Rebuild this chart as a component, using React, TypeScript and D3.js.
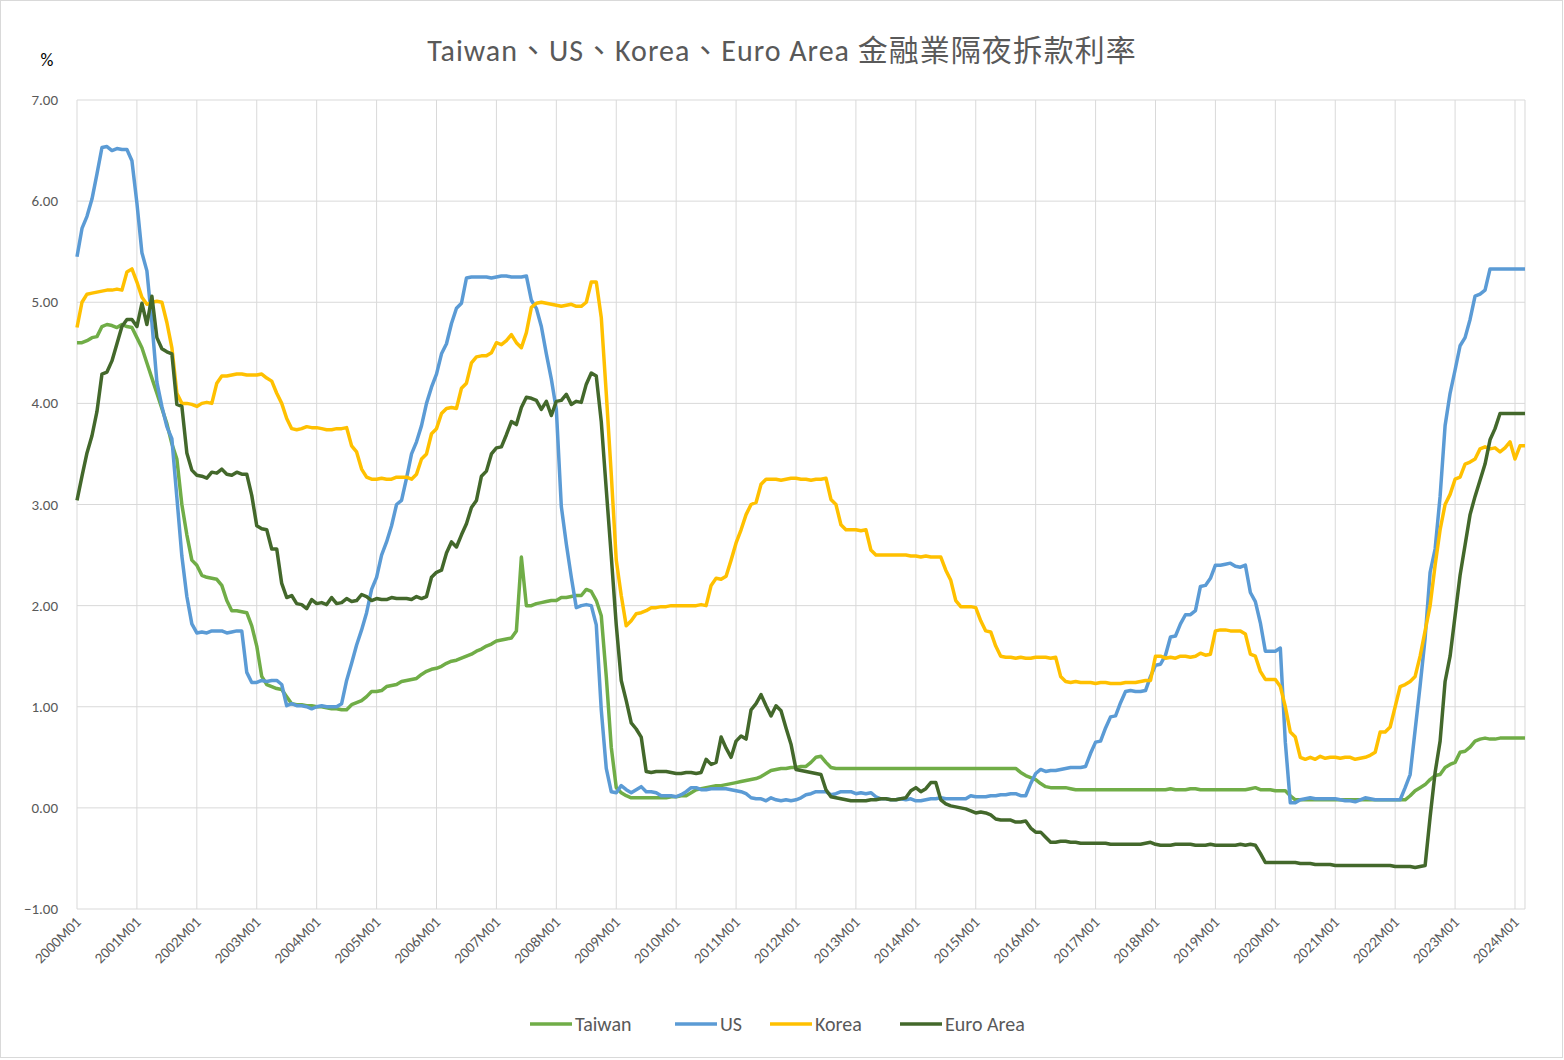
import { useEffect, useRef } from "react";
import * as d3 from "d3";

// monthly values 2000M01 .. 2024M03
const TAIWAN = [
  4.60,4.60,4.62,4.65,4.66,4.76,4.78,4.77,4.75,4.78,4.76,4.75,
  4.65,4.55,4.40,4.25,4.10,3.95,3.80,3.60,3.45,3.00,2.70,2.45,
  2.40,2.30,2.28,2.27,2.26,2.20,2.05,1.95,1.95,1.94,1.93,1.80,
  1.60,1.30,1.22,1.20,1.18,1.17,1.10,1.03,1.02,1.02,1.01,1.01,
  1.00,1.00,0.99,0.98,0.98,0.97,0.97,1.02,1.04,1.06,1.10,1.15,
  1.15,1.16,1.20,1.21,1.22,1.25,1.26,1.27,1.28,1.32,1.35,1.37,
  1.38,1.40,1.43,1.45,1.46,1.48,1.50,1.52,1.55,1.57,1.60,1.62,
  1.65,1.66,1.67,1.68,1.75,2.48,2.00,2.00,2.02,2.03,2.04,2.05,
  2.05,2.08,2.08,2.09,2.10,2.10,2.16,2.14,2.05,1.90,1.30,0.60,
  0.20,0.15,0.12,0.10,0.10,0.10,0.10,0.10,0.10,0.10,0.10,0.11,
  0.11,0.12,0.12,0.15,0.18,0.19,0.20,0.21,0.22,0.22,0.23,0.24,
  0.25,0.26,0.27,0.28,0.29,0.31,0.34,0.37,0.38,0.39,0.39,0.40,
  0.40,0.41,0.41,0.45,0.50,0.51,0.45,0.40,0.39,0.39,0.39,0.39,
  0.39,0.39,0.39,0.39,0.39,0.39,0.39,0.39,0.39,0.39,0.39,0.39,
  0.39,0.39,0.39,0.39,0.39,0.39,0.39,0.39,0.39,0.39,0.39,0.39,
  0.39,0.39,0.39,0.39,0.39,0.39,0.39,0.39,0.39,0.35,0.32,0.30,
  0.28,0.24,0.21,0.20,0.20,0.20,0.20,0.19,0.18,0.18,0.18,0.18,
  0.18,0.18,0.18,0.18,0.18,0.18,0.18,0.18,0.18,0.18,0.18,0.18,
  0.18,0.18,0.18,0.19,0.18,0.18,0.18,0.19,0.19,0.18,0.18,0.18,
  0.18,0.18,0.18,0.18,0.18,0.18,0.18,0.19,0.20,0.18,0.18,0.18,
  0.17,0.17,0.17,0.12,0.08,0.08,0.08,0.08,0.08,0.08,0.08,0.08,
  0.08,0.08,0.08,0.08,0.08,0.08,0.08,0.08,0.08,0.08,0.08,0.08,
  0.08,0.08,0.08,0.12,0.17,0.20,0.23,0.28,0.32,0.33,0.40,0.43,
  0.45,0.55,0.56,0.60,0.66,0.68,0.69,0.68,0.68,0.69,0.69,0.69,
  0.69,0.69,0.69,
];
const US = [
  5.45,5.73,5.85,6.02,6.27,6.53,6.54,6.50,6.52,6.51,6.51,6.40,
  5.98,5.49,5.31,4.80,4.21,3.97,3.77,3.65,3.07,2.49,2.09,1.82,
  1.73,1.74,1.73,1.75,1.75,1.75,1.73,1.74,1.75,1.75,1.34,1.24,
  1.24,1.26,1.25,1.26,1.26,1.22,1.01,1.03,1.01,1.01,1.00,0.98,
  1.00,1.01,1.00,1.00,1.00,1.03,1.26,1.43,1.61,1.76,1.93,2.16,
  2.28,2.50,2.63,2.79,3.00,3.04,3.26,3.50,3.62,3.78,4.00,4.16,
  4.29,4.49,4.59,4.79,4.94,4.99,5.24,5.25,5.25,5.25,5.25,5.24,
  5.25,5.26,5.26,5.25,5.25,5.25,5.26,5.02,4.94,4.76,4.49,4.24,
  3.94,2.98,2.61,2.28,1.98,2.00,2.01,2.00,1.81,0.97,0.39,0.16,
  0.15,0.22,0.18,0.15,0.18,0.21,0.16,0.16,0.15,0.12,0.12,0.12,
  0.11,0.13,0.16,0.20,0.20,0.18,0.18,0.19,0.19,0.19,0.19,0.18,
  0.17,0.16,0.14,0.10,0.09,0.09,0.07,0.10,0.08,0.07,0.08,0.07,
  0.08,0.10,0.13,0.14,0.16,0.16,0.16,0.13,0.14,0.16,0.16,0.16,
  0.14,0.15,0.14,0.15,0.11,0.09,0.09,0.08,0.08,0.09,0.08,0.09,
  0.07,0.07,0.08,0.09,0.09,0.10,0.09,0.09,0.09,0.09,0.09,0.12,
  0.11,0.11,0.11,0.12,0.12,0.13,0.13,0.14,0.14,0.12,0.12,0.24,
  0.34,0.38,0.36,0.37,0.37,0.38,0.39,0.40,0.40,0.40,0.41,0.54,
  0.65,0.66,0.79,0.90,0.91,1.04,1.15,1.16,1.15,1.15,1.16,1.30,
  1.41,1.42,1.51,1.69,1.70,1.82,1.91,1.91,1.95,2.19,2.20,2.27,
  2.40,2.40,2.41,2.42,2.39,2.38,2.40,2.13,2.04,1.83,1.55,1.55,
  1.55,1.58,0.65,0.05,0.05,0.08,0.09,0.10,0.09,0.09,0.09,0.09,
  0.09,0.08,0.07,0.07,0.06,0.08,0.10,0.09,0.08,0.08,0.08,0.08,
  0.08,0.08,0.20,0.33,0.77,1.21,1.68,2.33,2.56,3.08,3.78,4.10,
  4.33,4.57,4.65,4.83,5.06,5.08,5.12,5.33,5.33,5.33,5.33,5.33,
  5.33,5.33,5.33,
];
const KOREA = [
  4.75,5.00,5.08,5.09,5.10,5.11,5.12,5.12,5.13,5.12,5.30,5.33,
  5.20,5.05,4.98,5.00,5.01,5.00,4.80,4.55,4.10,4.00,4.00,3.99,
  3.97,4.00,4.01,4.00,4.20,4.27,4.27,4.28,4.29,4.29,4.28,4.28,
  4.28,4.29,4.25,4.22,4.10,4.00,3.85,3.75,3.74,3.75,3.77,3.76,
  3.76,3.75,3.74,3.74,3.75,3.75,3.76,3.58,3.52,3.35,3.27,3.25,
  3.25,3.26,3.25,3.25,3.27,3.27,3.27,3.25,3.30,3.45,3.50,3.70,
  3.75,3.90,3.95,3.96,3.95,4.15,4.20,4.40,4.46,4.47,4.47,4.50,
  4.60,4.58,4.62,4.68,4.60,4.55,4.70,4.95,4.99,5.00,4.99,4.98,
  4.97,4.96,4.97,4.98,4.96,4.96,5.00,5.20,5.20,4.85,4.10,3.30,
  2.45,2.10,1.80,1.85,1.92,1.93,1.95,1.98,1.98,1.99,1.99,2.00,
  2.00,2.00,2.00,2.00,2.00,2.01,2.00,2.20,2.27,2.26,2.29,2.45,
  2.62,2.75,2.90,3.00,3.02,3.20,3.25,3.25,3.25,3.24,3.25,3.26,
  3.26,3.25,3.25,3.24,3.25,3.25,3.26,3.05,3.00,2.80,2.75,2.75,
  2.75,2.74,2.75,2.55,2.50,2.50,2.50,2.50,2.50,2.50,2.50,2.49,
  2.49,2.48,2.49,2.48,2.48,2.48,2.35,2.25,2.05,1.99,1.99,1.99,
  1.98,1.85,1.75,1.74,1.60,1.50,1.49,1.49,1.48,1.49,1.48,1.48,
  1.49,1.49,1.49,1.48,1.49,1.30,1.25,1.24,1.25,1.24,1.24,1.24,
  1.23,1.24,1.24,1.23,1.23,1.23,1.24,1.24,1.24,1.25,1.26,1.26,
  1.50,1.50,1.48,1.49,1.48,1.50,1.50,1.49,1.50,1.53,1.51,1.52,
  1.75,1.76,1.76,1.75,1.75,1.75,1.72,1.52,1.50,1.35,1.27,1.27,
  1.27,1.20,1.00,0.75,0.70,0.50,0.48,0.50,0.48,0.51,0.49,0.50,
  0.50,0.49,0.50,0.50,0.48,0.49,0.50,0.52,0.55,0.75,0.75,0.80,
  1.00,1.20,1.22,1.25,1.30,1.50,1.75,2.00,2.40,2.75,3.00,3.10,
  3.25,3.27,3.40,3.42,3.45,3.55,3.57,3.55,3.56,3.52,3.56,3.62,
  3.45,3.58,3.58,
];
const EURO = [
  3.04,3.28,3.51,3.68,3.92,4.29,4.31,4.42,4.59,4.76,4.83,4.83,
  4.76,4.99,4.78,5.06,4.65,4.54,4.51,4.49,3.99,3.97,3.51,3.34,
  3.29,3.28,3.26,3.32,3.31,3.35,3.30,3.29,3.32,3.30,3.30,3.09,
  2.79,2.76,2.75,2.56,2.56,2.22,2.08,2.10,2.02,2.01,1.97,2.06,
  2.02,2.03,2.01,2.08,2.02,2.03,2.07,2.04,2.05,2.11,2.09,2.05,
  2.07,2.06,2.06,2.08,2.07,2.07,2.07,2.06,2.09,2.07,2.09,2.28,
  2.33,2.35,2.52,2.63,2.58,2.70,2.81,2.97,3.04,3.28,3.33,3.50,
  3.56,3.57,3.69,3.82,3.79,3.96,4.06,4.05,4.03,3.94,4.02,3.88,
  4.02,4.03,4.09,3.99,4.02,4.01,4.19,4.30,4.27,3.82,3.15,2.49,
  1.81,1.26,1.06,0.84,0.78,0.70,0.36,0.35,0.36,0.36,0.36,0.35,
  0.34,0.34,0.35,0.35,0.34,0.35,0.48,0.43,0.45,0.70,0.59,0.50,
  0.66,0.71,0.68,0.97,1.03,1.12,1.01,0.91,1.01,0.96,0.79,0.63,
  0.38,0.37,0.36,0.35,0.34,0.33,0.18,0.11,0.10,0.09,0.08,0.07,
  0.07,0.07,0.07,0.08,0.08,0.09,0.09,0.08,0.08,0.09,0.10,0.17,
  0.20,0.16,0.19,0.25,0.25,0.08,0.04,0.02,0.01,0.00,-0.01,-0.03,
  -0.05,-0.04,-0.05,-0.07,-0.11,-0.12,-0.12,-0.12,-0.14,-0.14,-0.13,-0.20,
  -0.24,-0.24,-0.29,-0.34,-0.34,-0.33,-0.33,-0.34,-0.34,-0.35,-0.35,-0.35,
  -0.35,-0.35,-0.35,-0.36,-0.36,-0.36,-0.36,-0.36,-0.36,-0.36,-0.35,-0.34,
  -0.36,-0.37,-0.37,-0.37,-0.36,-0.36,-0.36,-0.36,-0.37,-0.37,-0.37,-0.36,
  -0.37,-0.37,-0.37,-0.37,-0.37,-0.36,-0.37,-0.36,-0.37,-0.45,-0.54,-0.54,
  -0.54,-0.54,-0.54,-0.54,-0.54,-0.55,-0.55,-0.55,-0.56,-0.56,-0.56,-0.56,
  -0.57,-0.57,-0.57,-0.57,-0.57,-0.57,-0.57,-0.57,-0.57,-0.57,-0.57,-0.57,
  -0.58,-0.58,-0.58,-0.58,-0.59,-0.58,-0.57,-0.09,0.35,0.66,1.25,1.50,
  1.90,2.30,2.60,2.90,3.08,3.24,3.40,3.64,3.75,3.90,3.90,3.90,
  3.90,3.90,3.90,
];

const SERIES = [
  { name: "Taiwan", values: TAIWAN, color: "#70AD47" },
  { name: "US", values: US, color: "#5B9BD5" },
  { name: "Korea", values: KOREA, color: "#FFC000" },
  { name: "Euro Area", values: EURO, color: "#43682B" },
];
const YEARS = d3.range(2000, 2025);
const Y_TICKS = [-1, 0, 1, 2, 3, 4, 5, 6, 7];
const TITLE = "Taiwan、US、Korea、Euro Area 金融業隔夜拆款利率";
const FONT = "Carlito, 'Open Sans', 'Noto Sans CJK TC', sans-serif";

export default function App() {
  const ref = useRef<SVGSVGElement | null>(null);

  useEffect(() => {
    const W = 1564, H = 1060;
    const svg = d3.select(ref.current);
    svg.selectAll("*").remove();
    svg.attr("width", W).attr("height", H).style("font-family", FONT);

    svg.append("rect").attr("x", 0.5).attr("y", 0.5).attr("width", W - 2).attr("height", H - 3)
      .attr("fill", "#fff").attr("stroke", "#d9d9d9");

    const x = d3.scaleLinear().domain([0, 288]).range([77, 1515]);
    const y = d3.scaleLinear().domain([-1, 7]).range([909, 100]);
    const n = TAIWAN.length;

    // gridlines
    svg.append("g").selectAll("line").data(Y_TICKS).join("line")
      .attr("x1", x(0)).attr("x2", x(n - 1)).attr("y1", (d) => y(d)).attr("y2", (d) => y(d))
      .attr("stroke", "#d9d9d9");
    svg.append("g").selectAll("line").data(YEARS).join("line")
      .attr("x1", (d) => x((d - 2000) * 12)).attr("x2", (d) => x((d - 2000) * 12))
      .attr("y1", y(7)).attr("y2", y(-1)).attr("stroke", "#d9d9d9");
    svg.append("line").attr("x1", x(n - 1)).attr("x2", x(n - 1)).attr("y1", y(7)).attr("y2", y(-1))
      .attr("stroke", "#d9d9d9");

    // y labels
    svg.append("g").selectAll("text").data(Y_TICKS).join("text")
      .attr("x", 58).attr("y", (d) => y(d) + 5).attr("text-anchor", "end")
      .attr("font-size", 15).attr("fill", "#595959").text((d) => d3.format(".2f")(d));

    // x labels
    svg.append("g").selectAll("text").data(YEARS).join("text")
      .attr("transform", (d) => `translate(${x((d - 2000) * 12) + 5},${y(-1) + 14}) rotate(-45)`)
      .attr("text-anchor", "end").attr("font-size", 15).attr("fill", "#595959")
      .text((d) => `${d}M01`);

    const line = d3.line<number>().x((_, i) => x(i)).y((d) => y(d));
    SERIES.forEach((s) => {
      svg.append("path").datum(s.values).attr("d", line).attr("fill", "none")
        .attr("stroke", s.color).attr("stroke-width", 3.5).attr("stroke-linejoin", "round");
    });

    svg.append("text").attr("x", 782).attr("y", 61).attr("text-anchor", "middle")
      .attr("font-size", 30).attr("letter-spacing", 1).attr("fill", "#595959").text(TITLE);
    svg.append("text").attr("x", 47).attr("y", 66).attr("text-anchor", "middle")
      .attr("font-size", 18).attr("fill", "#000").text("%");

    // legend
    const legendX = [530, 675, 770, 900];
    const lg = svg.append("g").attr("transform", "translate(0,1024)");
    SERIES.forEach((s, i) => {
      lg.append("line").attr("x1", legendX[i]).attr("x2", legendX[i] + 42).attr("y1", 0).attr("y2", 0)
        .attr("stroke", s.color).attr("stroke-width", 3.5);
      lg.append("text").attr("x", legendX[i] + 45).attr("y", 7).attr("font-size", 20)
        .attr("fill", "#595959").text(s.name);
    });
  }, []);

  return <svg ref={ref} style={{ position: "absolute", left: 0, top: 0, display: "block" }} />;
}
